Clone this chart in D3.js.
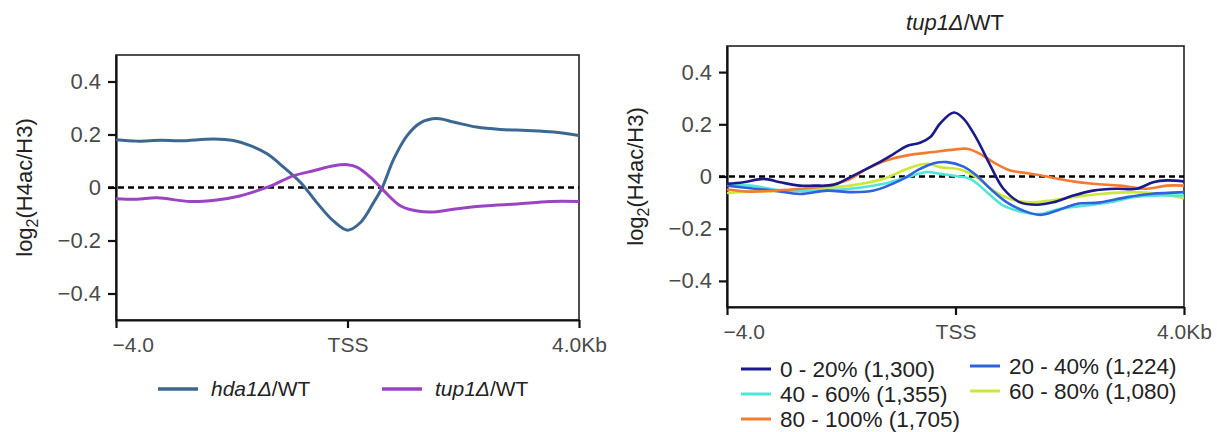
<!DOCTYPE html>
<html>
<head>
<meta charset="utf-8">
<script src="https://cdn.jsdelivr.net/npm/d3@7.9.0/dist/d3.min.js"></script>
<style>
  body { margin: 0; background: #fff; }
  svg { display: block; font-family: "Liberation Sans", Arial, sans-serif; }
</style>
</head>
<body>
<svg id="chart" width="1217" height="432"></svg>
<script>
// x positions in kb relative to TSS, values are log2(H4ac/H3)
const hda1 = [[-4,0.18],[-3.64,0.175],[-3.23,0.178],[-2.89,0.176],[-2.31,0.183],[-1.97,0.177],[-1.68,0.158],[-1.39,0.127],[-1.1,0.076],[-0.81,0.019],[-0.53,-0.057],[-0.24,-0.127],[0,-0.161],[0.22,-0.133],[0.45,-0.057],[0.6,0],[0.8,0.108],[1.03,0.196],[1.26,0.244],[1.54,0.26],[1.83,0.247],[2.23,0.228],[2.64,0.219],[3.1,0.215],[3.56,0.209],[4,0.196]];
const tup1 = [[-4,-0.042],[-3.64,-0.044],[-3.29,-0.039],[-2.72,-0.053],[-2.26,-0.047],[-1.86,-0.032],[-1.57,-0.013],[-1.28,0.01],[-0.94,0.044],[-0.59,0.063],[-0.24,0.082],[0,0.086],[0.17,0.076],[0.4,0.038],[0.63,-0.013],[0.92,-0.07],[1.21,-0.089],[1.5,-0.092],[1.83,-0.082],[2.35,-0.07],[2.93,-0.062],[3.5,-0.053],[4,-0.053]];

const q0_20 = [[-4,-0.028],[-3.71,-0.022],[-3.36,-0.009],[-3.07,-0.022],[-2.72,-0.035],[-2.48,-0.035],[-2.13,-0.032],[-1.9,-0.009],[-1.67,0.017],[-1.38,0.049],[-1.08,0.087],[-0.85,0.117],[-0.62,0.129],[-0.44,0.151],[-0.27,0.203],[-0.03,0.245],[0.14,0.222],[0.37,0.145],[0.61,0.042],[0.84,-0.047],[1.13,-0.099],[1.42,-0.108],[1.71,-0.099],[2.06,-0.073],[2.41,-0.054],[2.82,-0.047],[3.17,-0.047],[3.46,-0.022],[3.7,-0.015],[4,-0.019]];
const q20_40 = [[-4,-0.035],[-3.59,-0.045],[-3.18,-0.054],[-2.72,-0.067],[-2.25,-0.054],[-1.84,-0.06],[-1.43,-0.054],[-0.97,-0.015],[-0.62,0.029],[-0.38,0.051],[-0.15,0.055],[0.14,0.038],[0.37,0.004],[0.61,-0.047],[0.9,-0.099],[1.19,-0.131],[1.48,-0.147],[1.77,-0.131],[2.12,-0.105],[2.53,-0.099],[3.0,-0.079],[3.41,-0.067],[4,-0.06]];
const q40_60 = [[-4,-0.035],[-3.59,-0.035],[-3.01,-0.054],[-2.42,-0.054],[-1.84,-0.047],[-1.26,-0.028],[-0.85,-0.003],[-0.5,0.017],[-0.27,0.01],[0.02,0.001],[0.26,-0.009],[0.55,-0.06],[0.84,-0.112],[1.19,-0.137],[1.48,-0.144],[1.83,-0.124],[2.24,-0.112],[2.71,-0.099],[3.11,-0.079],[3.58,-0.073],[4,-0.073]];
const q60_80 = [[-4,-0.063],[-3.59,-0.058],[-3.01,-0.054],[-2.42,-0.045],[-1.84,-0.035],[-1.26,-0.009],[-0.85,0.029],[-0.5,0.049],[-0.27,0.036],[0.08,0.027],[0.37,-0.003],[0.66,-0.054],[0.96,-0.086],[1.31,-0.099],[1.66,-0.092],[2.06,-0.079],[2.53,-0.067],[3.11,-0.06],[3.58,-0.067],[4,-0.083]];
const q80_100 = [[-4,-0.05],[-3.59,-0.058],[-3.18,-0.054],[-2.72,-0.047],[-2.25,-0.035],[-1.9,-0.015],[-1.55,0.029],[-1.2,0.062],[-0.85,0.081],[-0.38,0.094],[-0.03,0.103],[0.2,0.106],[0.43,0.087],[0.66,0.055],[0.96,0.023],[1.25,0.013],[1.6,0],[1.95,-0.015],[2.41,-0.028],[2.88,-0.035],[3.35,-0.047],[3.7,-0.035],[4,-0.035]];

const yTicks = [-0.4, -0.2, 0, 0.2, 0.4];
const yTickLabels = ["\u22120.4", "\u22120.2", "0", "0.2", "0.4"];
const xTicks = [-4, 0, 4];
const xTickLabels = ["\u22124.0", "TSS", "4.0Kb"];

const leftSeries = [
  { name: "hda1\u0394", rest: "/WT", data: hda1, color: "#3b6790" },
  { name: "tup1\u0394", rest: "/WT", data: tup1, color: "#9a44c4" }
];
const rightSeries = [
  { label: "0 - 20% (1,300)", data: q0_20, color: "#1b1a8a" },
  { label: "20 - 40% (1,224)", data: q20_40, color: "#2f62e0" },
  { label: "40 - 60% (1,355)", data: q40_60, color: "#4fe6d8" },
  { label: "60 - 80% (1,080)", data: q60_80, color: "#cbe83a" },
  { label: "80 - 100% (1,705)", data: q80_100, color: "#f47b30" }
];

const svg = d3.select("#chart");

function drawPanel(left, right, top, bottom, series, lineWidth, drawOrder) {
  let x = d3.scaleLinear().domain([-4, 4]).range([left, right]);
  let y = d3.scaleLinear().domain([-0.5, 0.5]).range([bottom, top]);
  let g = svg.append("g");

  // frame
  g.append("rect")
    .attr("x", left).attr("y", top)
    .attr("width", right - left).attr("height", bottom - top)
    .attr("fill", "none").attr("stroke", "#222").attr("stroke-width", 1.6);

  let yAxis = g.append("g")
    .attr("transform", `translate(${left},0)`)
    .call(d3.axisLeft(y).tickValues(yTicks).tickSize(8).tickPadding(7).tickSizeOuter(0)
      .tickFormat((d, i) => yTickLabels[i]));
  let xAxis = g.append("g")
    .attr("transform", `translate(0,${bottom})`)
    .call(d3.axisBottom(x).tickValues(xTicks).tickSize(8).tickPadding(9).tickSizeOuter(0)
      .tickFormat((d, i) => xTickLabels[i]));

  [yAxis, xAxis].forEach(ax => {
    ax.select(".domain").attr("stroke", "#111").attr("stroke-width", 2.2);
    ax.selectAll(".tick line").attr("stroke", "#111").attr("stroke-width", 2.2);
    ax.selectAll(".tick text").attr("fill", "#4a4a4a").style("font-size", "21px");
  });
  yAxis.selectAll(".tick text").style("font-size", "22px");
  xAxis.selectAll(".tick text").filter((d, i) => i === 0)
    .attr("text-anchor", "start").attr("dx", -4);

  // zero line
  g.append("line")
    .attr("x1", left - 8).attr("x2", right)
    .attr("y1", y(0)).attr("y2", y(0))
    .attr("stroke", "#000").attr("stroke-width", 2.6)
    .attr("stroke-dasharray", "6,4");

  let line = d3.line()
    .x(d => x(d[0]))
    .y(d => y(d[1]))
    .curve(d3.curveCatmullRom.alpha(0.5));

  (drawOrder || series).forEach(s => {
    g.append("path")
      .attr("d", line(s.data))
      .attr("fill", "none")
      .attr("stroke", s.color)
      .attr("stroke-width", lineWidth)
      .attr("stroke-linejoin", "round");
  });

  // y label
  let yl = g.append("text")
    .attr("transform", `translate(${left - 84},${(top + bottom) / 2}) rotate(-90)`)
    .attr("text-anchor", "middle")
    .attr("fill", "#222")
    .style("font-size", "22px");
  yl.append("tspan").text("log");
  yl.append("tspan").text("2").attr("dy", 6).style("font-size", "16px");
  yl.append("tspan").text("(H4ac/H3)").attr("dy", -6);

  return { x, y };
}

// left panel
drawPanel(116, 579, 55, 320, leftSeries, 3);

let legL = svg.append("g");
let legX = [158, 382];
leftSeries.forEach((s, i) => {
  legL.append("line")
    .attr("x1", legX[i]).attr("x2", legX[i] + 40)
    .attr("y1", 389).attr("y2", 389)
    .attr("stroke", s.color).attr("stroke-width", 3.5);
  let t = legL.append("text")
    .attr("x", legX[i] + 53).attr("y", 396)
    .attr("fill", "#222").style("font-size", "21px");
  t.append("tspan").text(s.name).style("font-style", "italic");
  t.append("tspan").text(s.rest);
});

// right panel
let order = [rightSeries[3], rightSeries[2], rightSeries[1], rightSeries[4], rightSeries[0]];
drawPanel(727, 1184, 46, 307, rightSeries, 2.6, order);

let title = svg.append("text")
  .attr("x", 955).attr("y", 30)
  .attr("text-anchor", "middle")
  .attr("fill", "#222").style("font-size", "22px");
title.append("tspan").text("tup1\u0394").style("font-style", "italic");
title.append("tspan").text("/WT");

let legR = svg.append("g");
rightSeries.forEach((s, i) => {
  let col = i % 2;
  let row = Math.floor(i / 2);
  let lx = col === 0 ? 741 : 970;
  let ly = 369 + row * 25 - (col === 1 ? 3 : 0);
  legR.append("line")
    .attr("x1", lx).attr("x2", lx + 30)
    .attr("y1", ly).attr("y2", ly)
    .attr("stroke", s.color).attr("stroke-width", 3);
  legR.append("text")
    .attr("x", lx + 39).attr("y", ly + 8)
    .attr("fill", "#222").style("font-size", "22.5px")
    .text(s.label);
});
</script>
</body>
</html>
